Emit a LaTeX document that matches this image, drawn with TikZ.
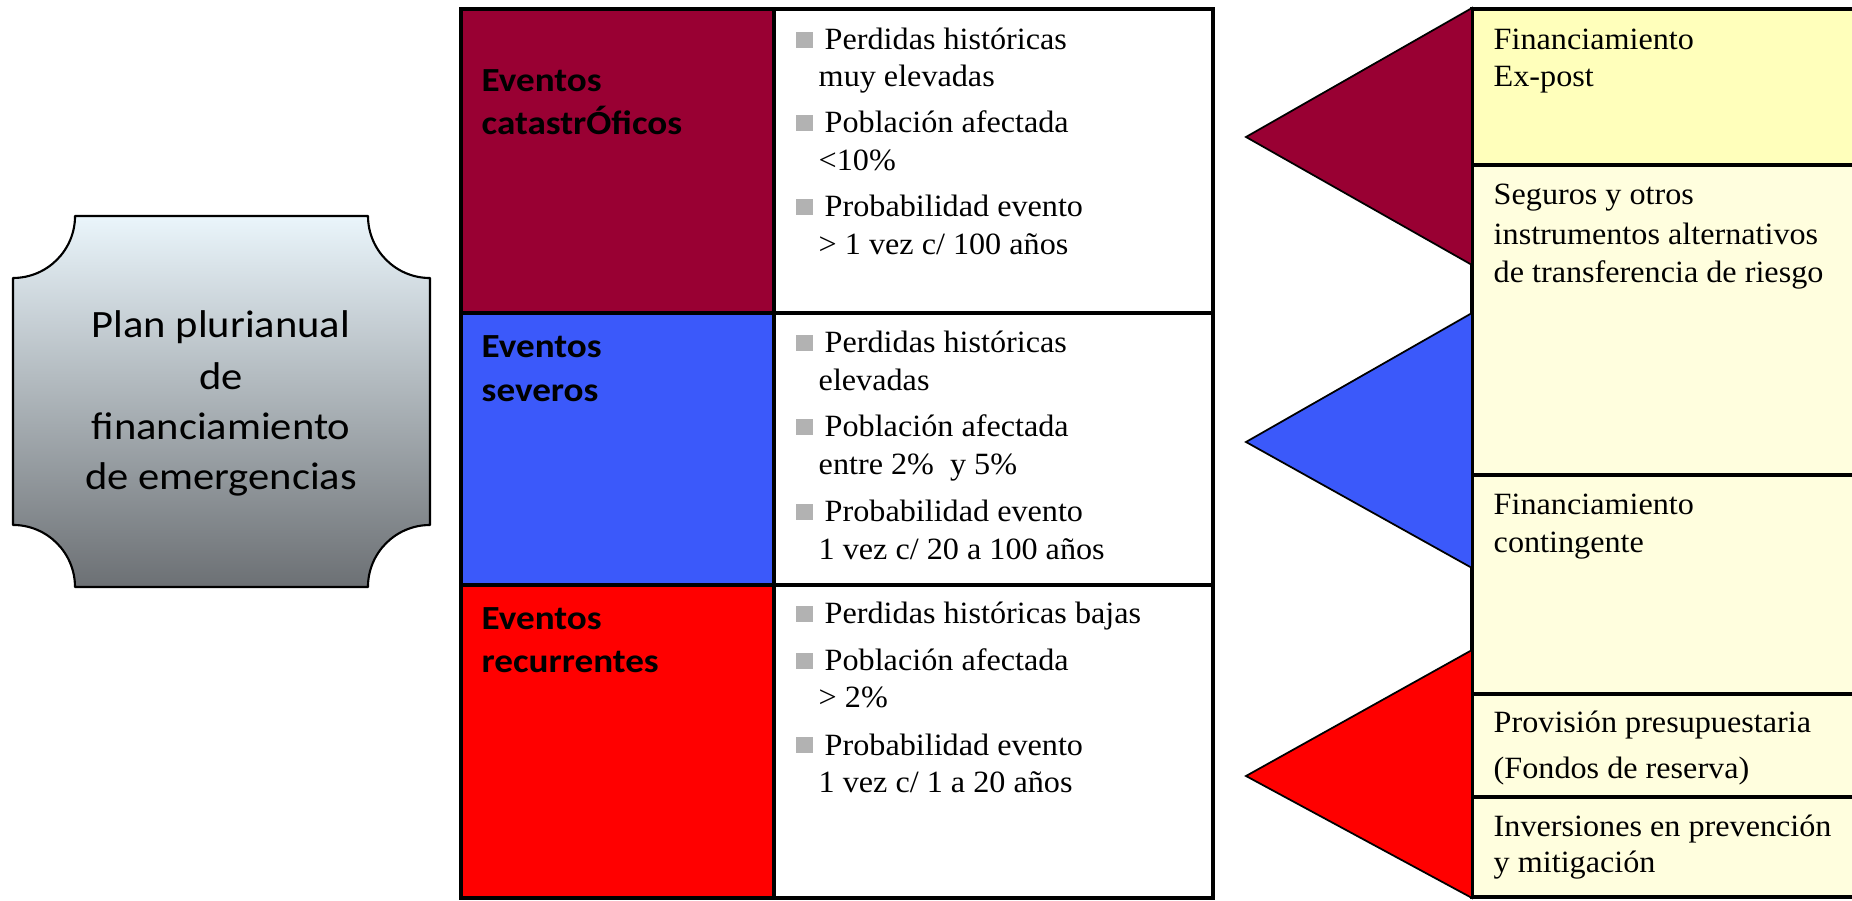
\documentclass[tikz,border=0pt]{standalone}
\usepackage{fontspec}
\setmainfont{Liberation Serif}[FakeStretch=1.04]
\newfontfamily\calfont{Carlito}[FakeStretch=1.1]
\definecolor{maroonc}{RGB}{153,0,51}
\definecolor{bluec}{RGB}{59,89,250}
\definecolor{redc}{RGB}{255,0,0}
\definecolor{bulg}{RGB}{178,178,178}
\definecolor{yelA}{RGB}{255,255,187}
\definecolor{yelB}{RGB}{255,254,222}
\definecolor{plTop}{RGB}{234,245,251}
\definecolor{plBot}{RGB}{108,112,116}
\newcommand\myitem[3]{%
  \fill[bulg] (796,#2-18) rectangle (813,#2-2);
  \node[tx] (#1) at (824,#2) {#3};}
\newcommand\mycont[3]{\node[tx] (#1) at (818,#2) {#3};}
\begin{document}
\begin{tikzpicture}[x=0.01cm,y=-0.01cm,
  tx/.style={anchor=base west,inner sep=0pt,font=\fontsize{8.8}{10}\selectfont},
  ev/.style={anchor=base west,inner sep=0pt,font=\calfont\bfseries\fontsize{9.6}{11}\selectfont},
  pl/.style={anchor=base,inner sep=0pt,font=\calfont\fontsize{11}{12}\selectfont},
  gridline/.style={draw=black,line width=0.9pt},
  boxline/.style={draw=black,line width=1pt},
  triline/.style={draw=black,line width=0.5pt}]
\clip (0,0) rectangle (1852,901);
\fill[white] (0,0) rectangle (1852,901);

% plaque
\path[draw=black,line width=0.6pt,line join=round,top color=plTop,bottom color=plBot]
 (221,216) -- (368,216) arc[start angle=180,end angle=270,radius=0.62cm]
 -- (430,525) arc[start angle=90,end angle=180,radius=0.62cm]
 -- (75,587) arc[start angle=0,end angle=90,radius=0.62cm]
 -- (13,278) arc[start angle=270,end angle=360,radius=0.62cm] -- cycle;
\node[pl] (p1) at (221,338) {Plan plurianual};
\node[pl] (p2) at (221,390) {de};
\node[pl] (p3) at (221,440) {financiamiento};
\node[pl] (p4) at (221,490) {de emergencias};

% table
\fill[maroonc] (461,9) rectangle (774,313);
\fill[bluec] (461,313) rectangle (774,585);
\fill[redc] (461,585) rectangle (774,898);
\fill[white] (774,9) rectangle (1213,898);
\draw[gridline] (461,9) rectangle (1213,898);
\draw[gridline] (774,9) -- (774,898);
\draw[gridline] (461,313) -- (1213,313);
\draw[gridline] (461,585) -- (1213,585);

\node[ev] (e1a) at (481,92) {Eventos};
\node[ev] (e1b) at (481,135) {catastrÓficos};
\node[ev] (e2a) at (481,358) {Eventos};
\node[ev] (e2b) at (481,402) {severos};
\node[ev] (e3a) at (481,630) {Eventos};
\node[ev] (e3b) at (481,673) {recurrentes};

\myitem{a1}{50}{Perdidas históricas}
\mycont{a2}{87}{muy elevadas}
\myitem{a3}{133}{Población afectada}
\mycont{a4}{171}{<10\%}
\myitem{a5}{217}{Probabilidad evento}
\mycont{a6}{255}{> 1 vez c/ 100 años}

\myitem{b1}{353}{Perdidas históricas}
\mycont{b2}{391}{elevadas}
\myitem{b3}{437}{Población afectada}
\mycont{b4}{475}{entre 2\%\ \ y 5\%}
\myitem{b5}{522}{Probabilidad evento}
\mycont{b6}{560}{1 vez c/ 20 a 100 años}

\myitem{c1}{624}{Perdidas históricas bajas}
\myitem{c2}{671}{Población afectada}
\mycont{c3}{708}{> 2\%}
\myitem{c4}{755}{Probabilidad evento}
\mycont{c5}{793}{1 vez c/ 1 a 20 años}

% right boxes
\draw[boxline,fill=yelA] (1472,9) rectangle (1870,165);
\draw[boxline,fill=yelB] (1472,165) rectangle (1870,475);
\draw[boxline,fill=yelB] (1472,475) rectangle (1870,694);
\draw[boxline,fill=yelB] (1472,694) rectangle (1870,797);
\draw[boxline,fill=yelB] (1472,797) rectangle (1870,897);

\node[tx] (f1a) at (1493,50) {Financiamiento};
\node[tx] (f1b) at (1493,87) {Ex-post};
\node[tx] (f2a) at (1493,205) {Seguros y otros};
\node[tx] (f2b) at (1493,245) {instrumentos alternativos};
\node[tx] (f2c) at (1493,283) {de transferencia de riesgo};
\node[tx] (f3a) at (1493,515) {Financiamiento};
\node[tx] (f3b) at (1493,553) {contingente};
\node[tx] (f4a) at (1493,733) {Provisión presupuestaria};
\node[tx] (f4b) at (1493,778) {(Fondos de reserva)};
\node[tx] (f5a) at (1493,837) {Inversiones en prevención};
\node[tx] (f5b) at (1493,873) {y mitigación};

% triangles
\draw[triline,fill=maroonc] (1246,137) -- (1472,8) -- (1472,265) -- cycle;
\draw[triline,fill=bluec] (1246,442) -- (1472,313) -- (1472,568) -- cycle;
\draw[triline,fill=redc] (1246,776) -- (1472,650) -- (1472,898) -- cycle;
\end{tikzpicture}
\end{document}
